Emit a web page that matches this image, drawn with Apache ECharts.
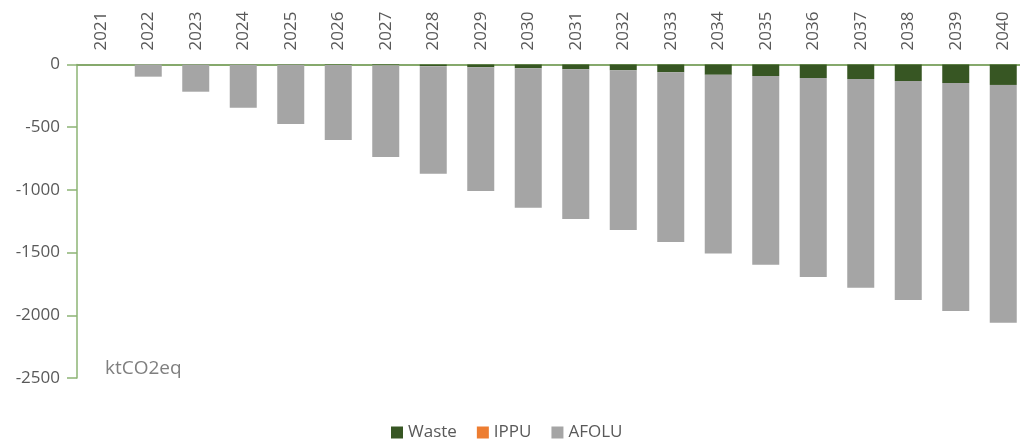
<!DOCTYPE html>
<html>
<head>
<meta charset="utf-8">
<script src="https://cdn.jsdelivr.net/npm/echarts@6/dist/echarts.min.js"></script>
<style>
    html, body { margin: 0; padding: 0; background: #fff; }
    #chart { width: 1020px; height: 440px; }
</style>
</head>
<body>
<div id="chart"></div>
<script>
// 年份
var years = ['2021', '2022', '2023', '2024', '2025', '2026', '2027', '2028', '2029', '2030',
    '2031', '2032', '2033', '2034', '2035', '2036', '2037', '2038', '2039', '2040'];
// 各部门减排量 (ktCO2eq)
var waste = [0, 0, 1, 1, 2, 3, 5, 13, 22, 30, 38, 46, 62, 82, 92, 108, 116, 132, 148, 163];
var ippu = [0, 0, 0, 0, 0, 0, 0, 0, 0, 0, 0, 0, 0, 0, 0, 0, 0, 0, 0, 0];
var afolu = [0, -97, -216, -343, -472, -599, -733, -858, -987, -1113,
    -1194, -1274, -1353, -1426, -1504, -1586, -1664, -1746, -1818, -1896];
var yTicks = [0, -500, -1000, -1500, -2000, -2500];

var myChart = echarts.init(document.getElementById('chart'));
var textColor = '#595959';
var font = '"Open Sans", sans-serif';

var option = {
    animation: false,
    legend: {
        top: 419,
        left: 386,
        itemWidth: 12,
        itemHeight: 12,
        itemGap: 20,
        icon: 'rect',
        textStyle: { color: textColor, fontSize: 17, fontFamily: font },
        data: ['Waste', 'IPPU', 'AFOLU']
    },
    // 2040 这一列超出画布右边一点，所以关掉 outerBounds 限制
    grid: { left: 77, width: 950, top: 64.5, bottom: 62, containLabel: false, outerBoundsMode: 'none' },
    xAxis: {
        type: 'category',
        position: 'top',
        data: years,
        axisLine: { lineStyle: { color: '#86A96C', width: 2 } },
        axisTick: { inside: true, length: 8, lineStyle: { color: '#4E7A35', width: 1.5 } },
        axisLabel: {
            rotate: 90,
            margin: 14,
            color: textColor,
            fontSize: 17,
            fontFamily: font
        }
    },
    yAxis: {
        type: 'value',
        min: yTicks[yTicks.length - 1],
        max: yTicks[0],
        interval: 500,
        axisLine: { show: true, lineStyle: { color: '#8DB475', width: 1.5 } },
        axisTick: { show: true, length: 10, lineStyle: { color: '#8DB475', width: 1.5 } },
        splitLine: { show: false },
        axisLabel: {
            margin: 17,
            color: textColor,
            fontSize: 17,
            fontFamily: font,
            formatter: function (val) { return String(val); }
        }
    },
    graphic: [{
        type: 'text',
        left: 105,
        top: 359,
        style: { text: 'ktCO2eq', fill: '#7F7F7F', fontSize: 19, fontFamily: font }
    }],
    series: [
        { name: 'Waste', type: 'bar', stack: 'total', barWidth: 27, data: waste.map(function (v) { return -v; }), itemStyle: { color: '#375623' } },
        { name: 'IPPU', type: 'bar', stack: 'total', barWidth: 27, data: ippu, itemStyle: { color: '#ED7D31' } },
        { name: 'AFOLU', type: 'bar', stack: 'total', barWidth: 27, data: afolu, itemStyle: { color: '#A5A5A5' } }
    ]
};
myChart.setOption(option);
</script>
</body>
</html>
